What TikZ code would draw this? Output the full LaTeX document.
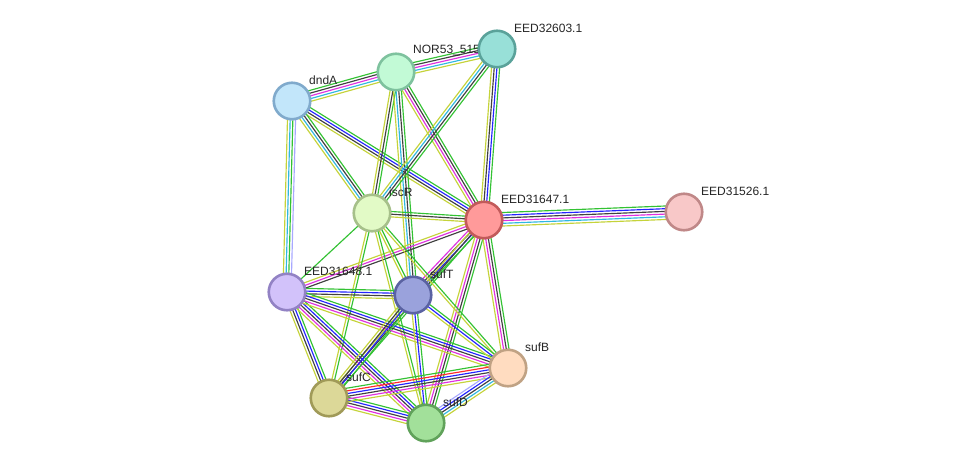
\documentclass[tikz,border=0pt]{standalone}
\usepackage{fontspec}
\setmainfont{Liberation Sans}
\usetikzlibrary{calc}
\pgfdeclarelayer{background}
\pgfsetlayers{background,main}
\definecolor{cNb}{HTML}{33C233}
\definecolor{cFus}{HTML}{FF2A2A}
\definecolor{cCooc}{HTML}{2424FF}
\definecolor{cCoex}{HTML}{404040}
\definecolor{cExp}{HTML}{E030E0}
\definecolor{cDb}{HTML}{30B8E0}
\definecolor{cTm}{HTML}{C5D33A}
\definecolor{cHom}{HTML}{A8A8FF}
\tikzset{
  prot/.style={circle, minimum size=36.5pt, inner sep=0pt, line width=2.6pt},
  plabel/.style={anchor=west, inner sep=0pt, font=\fontsize{12pt}{13pt}\selectfont, text=black!85},
  edge/.style={line width=1.15pt},
}
\newcommand{\sedge}[3]{%
  \foreach \c [count=\k] in {#3} {\xdef\nlines{\k}}%
  \foreach \c [count=\k] in {#3} {%
    \pgfmathsetmacro\off{(\k-1-(\nlines-1)/2)*2.7}%
    \draw[edge,\c] ($(#1.center)!\off pt!90:(#2.center)$) -- ($(#2.center)!\off pt!-90:(#1.center)$);
  }%
}
\newcommand{\prot}[6]{%
  \node[prot, fill=#4, draw=#5] (#1) at (#2,#3) {};
  \node[plabel] (lab-#1) at (#2+17,#3-21) {#6};
}
\begin{document}
\begin{tikzpicture}[x=1pt,y=-1pt]
\useasboundingbox (0,0) rectangle (975,469);
\definecolor{fA}{HTML}{C2E6FA}\definecolor{dA}{HTML}{80AACC}
\definecolor{fB}{HTML}{C2FAD6}\definecolor{dB}{HTML}{7EC29E}
\definecolor{fC}{HTML}{98E0D8}\definecolor{dC}{HTML}{5AA29A}
\definecolor{fD}{HTML}{E2FAC6}\definecolor{dD}{HTML}{A6C08A}
\definecolor{fE}{HTML}{FF9A9A}\definecolor{dE}{HTML}{C25A5A}
\definecolor{fF}{HTML}{F8C8C8}\definecolor{dF}{HTML}{C08888}
\definecolor{fG}{HTML}{D2C2FA}\definecolor{dG}{HTML}{9282C4}
\definecolor{fH}{HTML}{9AA2DC}\definecolor{dH}{HTML}{5A62A2}
\definecolor{fI}{HTML}{FFDCC0}\definecolor{dI}{HTML}{C0A284}
\definecolor{fJ}{HTML}{DCD898}\definecolor{dJ}{HTML}{A09A58}
\definecolor{fK}{HTML}{A2E09A}\definecolor{dK}{HTML}{60A25A}

\prot{dndA}{292}{101}{fA}{dA}{dndA}
\prot{nor}{396}{72}{fB}{dB}{NOR53\_515}
\prot{e603}{497}{49}{fC}{dC}{EED32603.1}
\prot{iscR}{372}{213}{fD}{dD}{iscR}
\prot{e647}{484}{220}{fE}{dE}{EED31647.1}
\prot{e526}{684}{212}{fF}{dF}{EED31526.1}
\prot{e648}{287}{292}{fG}{dG}{EED31648.1}
\prot{sufT}{413}{295}{fH}{dH}{sufT}
\prot{sufB}{508}{368}{fI}{dI}{sufB}
\prot{sufC}{329}{398}{fJ}{dJ}{sufC}
\prot{sufD}{426}{423}{fK}{dK}{sufD}

\begin{pgfonlayer}{background}
\fill[white] (0,0) rectangle (975,469);
\sedge{dndA}{nor}{cTm,cDb,cExp,cCoex,cNb}
\sedge{nor}{e603}{cTm,cDb,cExp,cCoex,cNb}
\sedge{dndA}{e647}{cTm,cCoex,cCooc,cNb}
\sedge{dndA}{iscR}{cTm,cDb,cCoex,cNb}
\sedge{dndA}{e648}{cTm,cDb,cNb,cHom}
\sedge{nor}{iscR}{cTm,cCoex,cNb}
\sedge{nor}{sufT}{cTm,cDb,cCoex,cNb}
\sedge{nor}{e647}{cTm,cExp,cCoex,cNb}
\sedge{e603}{iscR}{cTm,cDb,cCoex,cNb}
\sedge{e603}{e647}{cTm,cCoex,cCooc,cNb}
\sedge{iscR}{e647}{cTm,cCoex,cNb}
\sedge{e647}{e526}{cTm,cDb,cExp,cCoex,cCooc,cNb}
\sedge{e647}{e648}{cTm,cExp,cCoex}
\sedge{e647}{sufT}{cExp,cCoex,cCooc,cNb}
\sedge{e647}{sufC}{cTm,cCoex,cNb}
\sedge{e647}{sufD}{cTm,cExp,cCoex,cNb}
\sedge{e647}{sufB}{cTm,cExp,cCoex,cNb}
\sedge{iscR}{e648}{cNb}
\sedge{iscR}{sufT}{cTm,cNb}
\sedge{iscR}{sufC}{cTm,cNb}
\sedge{iscR}{sufD}{cTm,cNb}
\sedge{iscR}{sufB}{cTm,cNb}
\sedge{e648}{sufT}{cTm,cCoex,cCooc,cNb}
\sedge{e648}{sufC}{cTm,cCoex,cCooc,cNb}
\sedge{e648}{sufD}{cTm,cExp,cCoex,cCooc,cNb}
\sedge{e648}{sufB}{cTm,cExp,cCoex,cCooc,cNb}
\sedge{sufT}{sufC}{cTm,cCoex,cCooc,cNb}
\sedge{sufT}{sufD}{cTm,cCooc,cNb}
\sedge{sufT}{sufB}{cTm,cCooc,cNb}
\sedge{sufC}{sufD}{cTm,cExp,cCoex,cCooc,cNb}
\sedge{sufC}{sufB}{cTm,cExp,cCoex,cCooc,cFus,cNb}
\sedge{sufD}{sufB}{cTm,cDb,cCoex,cCooc,cHom}
\end{pgfonlayer}
\end{tikzpicture}
\end{document}
